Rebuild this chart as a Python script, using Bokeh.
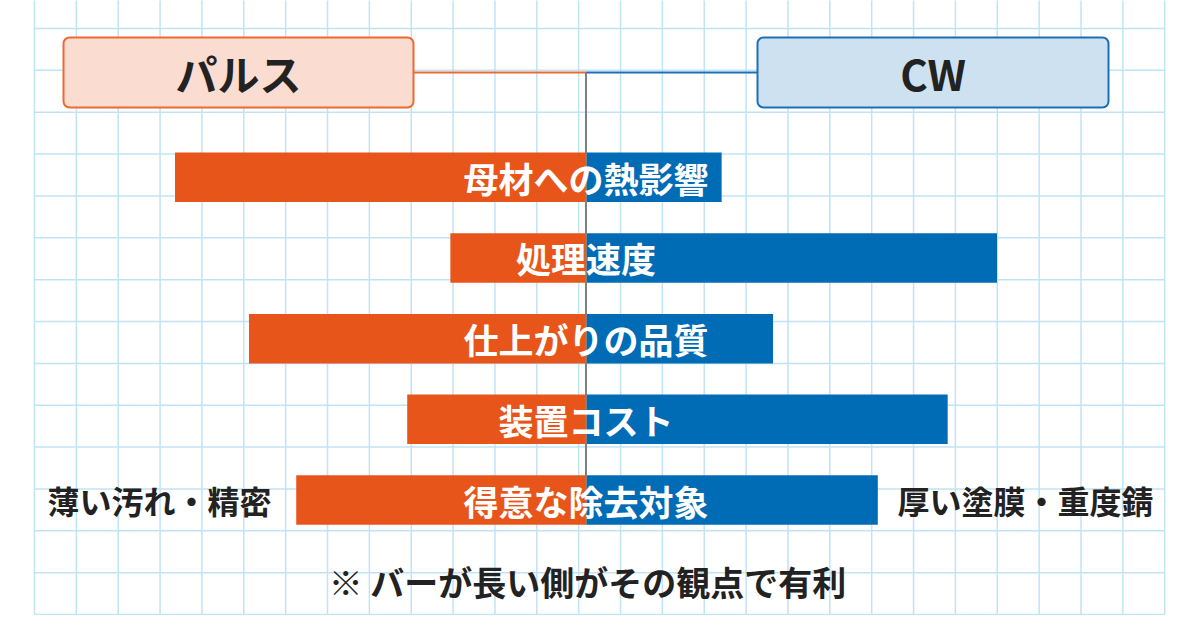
from bokeh.plotting import figure
from bokeh.models import Range1d, ColumnDataSource, BoxAnnotation, Label
from bokeh.core.properties import value
from bokeh.embed import file_html
from bokeh.resources import INLINE

# ---- data ----
categories = ["母材への熱影響", "処理速度", "仕上がりの品質", "装置コスト", "得意な除去対象"]
pulse = [10.0, 3.3, 8.2, 4.35, 7.05]
cw = [3.3, 10.0, 4.55, 8.8, 7.1]
headers = ["パルス", "CW"]
side_labels = ["薄い汚れ・精密", "厚い塗膜・重度錆"]
note = "※ バーが長い側がその観点で有利"

# ---- styling ----
FONT = "Noto Sans CJK JP"
ORANGE = "#e8551a"
BLUE = "#006cb6"
ORANGE_LIGHT = "#fadcd0"
BLUE_LIGHT = "#cde1f0"
ORANGE_LINE = "#ec6a30"
BLUE_LINE = "#1a70b8"
GRID = "#c0e3f5"
DARK = "#222222"

# layout mapping (picture px -> data units)
CX = 585.5      # centre line px
UX = 41.1       # px per value unit
CY = 176.75     # first row centre px
UY = 80.69      # px per row


def xd(px):
    return (px - CX) / UX


def yd(py):
    return (py - CY) / UY


W, H = 1185, 615
p = figure(width=W, height=H, output_backend="svg", toolbar_location=None,
           x_range=Range1d(xd(0), xd(W)), y_range=Range1d(yd(H), yd(0)),
           x_axis_location=None, y_axis_location=None, min_border=0,
           background_fill_color="white", border_fill_color="white")
p.outline_line_color = None
p.grid.visible = False

# ---- graph-paper grid ----
step = 41.86
vx = [34 + step * k for k in range(28)]
hy = [28 + step * k for k in range(15)]
p.segment(x0=[xd(v) for v in vx], x1=[xd(v) for v in vx],
          y0=[yd(-5)] * len(vx), y1=[yd(640)] * len(vx),
          line_color=GRID, line_width=1.5)
p.segment(x0=[xd(34)] * len(hy), x1=[xd(1164.5)] * len(hy),
          y0=[yd(h) for h in hy], y1=[yd(h) for h in hy],
          line_color=GRID, line_width=1.5)

# ---- bars ----
idx = list(range(len(categories)))
src = ColumnDataSource(dict(y=idx, cat=categories,
                            pl=[-v for v in pulse], cr=cw,
                            zero=[0] * len(idx)))
bh = 49.5 / UY
p.hbar(y="y", left="pl", right="zero", height=bh, source=src,
       fill_color=ORANGE, line_color=None)
p.hbar(y="y", left="zero", right="cr", height=bh, source=src,
       fill_color=BLUE, line_color=None)

# ---- connectors and centre line ----
p.segment(x0=[xd(413)], x1=[0], y0=[yd(72)], y1=[yd(72)],
          line_color=ORANGE_LINE, line_width=2)
p.segment(x0=[0], x1=[xd(757)], y0=[yd(72)], y1=[yd(72)],
          line_color=BLUE_LINE, line_width=2)
p.segment(x0=[0], x1=[0], y0=[yd(72)], y1=[yd(524)],
          line_color="#808080", line_width=2)

# ---- bar labels ----
p.text(x=0, y="y", text="cat", source=src, text_align="center",
       text_baseline="middle", text_color="white",
       text_font=value(FONT), text_font_style="bold", text_font_size="35px")

# ---- side labels ----
last = idx[-1]
p.text(x=[xd(159), xd(1025)], y=[last, last], text=side_labels,
       text_align="center", text_baseline="middle", text_color=DARK,
       text_font=value(FONT), text_font_style="bold", text_font_size="32px")

# ---- footnote ----
p.text(x=[xd(587)], y=[yd(581)], text=[note], text_align="center",
       text_baseline="middle", text_color=DARK,
       text_font=value(FONT), text_font_style="bold", text_font_size="34px")

# ---- header boxes ----
boxes = [(63, 413, ORANGE_LIGHT, ORANGE_LINE), (757, 1108, BLUE_LIGHT, BLUE_LINE)]
for (l, r, fc, lc), htxt in zip(boxes, headers):
    p.add_layout(BoxAnnotation(left=xd(l), right=xd(r), top=yd(37), bottom=yd(107),
                               fill_color=fc, fill_alpha=1.0, line_color=lc,
                               line_width=2, line_alpha=1.0, border_radius=6))
    p.add_layout(Label(x=xd((l + r) / 2), y=yd(72), text=htxt,
                       text_align="center", text_baseline="middle",
                       text_color=DARK, text_font=FONT, text_font_style="bold",
                       text_font_size="42px"))

open("out.html", "w").write(file_html(p, INLINE))
